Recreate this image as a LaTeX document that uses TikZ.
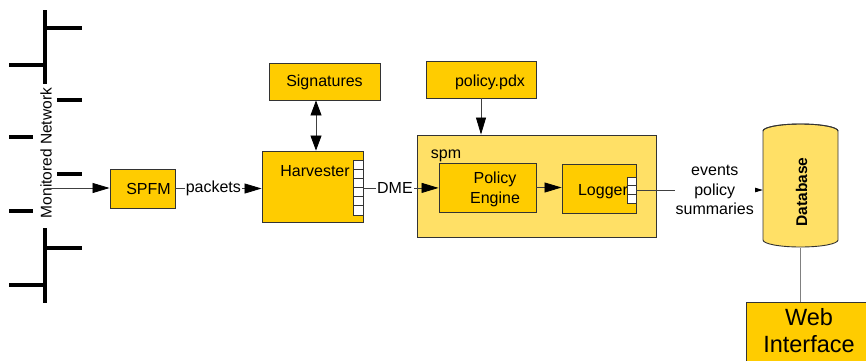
\documentclass[tikz,border=0pt]{standalone}
\usepackage{fontspec}
\setmainfont{Liberation Sans}
\usetikzlibrary{arrows.meta}
\definecolor{gold}{HTML}{FFCC00}
\definecolor{paleGold}{HTML}{FFE066}
\definecolor{edgeGray}{HTML}{333333}
\definecolor{wireGray}{HTML}{404040}
\definecolor{linkGray}{HTML}{808080}

\begin{document}
\begin{tikzpicture}[x=1pt,y=-1pt,
  box/.style={draw=edgeGray, fill=gold, line width=0.9pt, inner sep=0pt},
  palebox/.style={box, fill=paleGold},
  txt/.style={font=\fontsize{16}{20}\selectfont, inner sep=0pt, align=center, anchor=base},
  lbl/.style={font=\fontsize{16}{19.5}\selectfont, inner sep=1pt, align=center, fill=white},
  tip/.style={-{Triangle[length=17pt,width=10pt,color=black]}},
  dtip/.style={{Triangle[length=15pt,width=11pt,color=black]}-{Triangle[length=15pt,width=11pt,color=black]}},
  wire/.style={draw=wireGray, line width=0.8pt},
  bus/.style={line width=4pt, black},
  port/.style={draw=edgeGray, fill=white, line width=0.8pt, inner sep=0pt, minimum width=10pt}
]
\useasboundingbox (0,0) rectangle (866,360);
\clip (0,0) rectangle (866,360);

% monitored network bus
\draw[bus] (45,10) -- (45,84);
\draw[bus] (45,28) -- (82,28);
\draw[bus] (9,65) -- (45,65);
\draw[bus] (57,100) -- (82,100);
\draw[bus] (9,137) -- (33,137);
\draw[bus] (57,174) -- (82,174);
\draw[bus] (9,211) -- (33,211);
\draw[bus] (45,228) -- (45,303);
\draw[bus] (45,248) -- (82,248);
\draw[bus] (9,285) -- (45,285);
\coordinate (tap) at (47,188);

% boxes
\node[box, minimum width=65pt, minimum height=39pt] (spfm) at (142.5,188.5) {};
\node[box, minimum width=101pt, minimum height=71pt] (harv) at (312.5,186.5) {};
\node[box, minimum width=111pt, minimum height=37pt] (sig) at (324.5,81.5) {};
\node[box, minimum width=110pt, minimum height=37pt] (pdx) at (481,79.5) {};
\node[palebox, minimum width=239pt, minimum height=102pt] (spm) at (536.5,186) {};
\node[box, minimum width=97pt, minimum height=49pt] (pe) at (487.5,187.5) {};
\node[box, minimum width=74pt, minimum height=49pt] (log) at (599,188.5) {};
\node[box, minimum width=128pt, minimum height=66pt] (web) at (810,335) {};

% database cylinder
\node[inner sep=0pt, minimum width=75pt, minimum height=117pt] (db) at (800.5,189.5) {};
\draw[draw=edgeGray, fill=paleGold, line width=0.9pt]
  (763,131) -- (763,240) arc[start angle=180, end angle=360, x radius=37.5pt, y radius=7pt]
  -- (838,131) arc[start angle=0, end angle=180, x radius=37.5pt, y radius=7pt] -- cycle;
\draw[draw=edgeGray, line width=0.9pt]
  (763,131) arc[start angle=180, end angle=360, x radius=37.5pt, y radius=-7pt];

% texts
\node[txt, rotate=90, anchor=center, font=\fontsize{15.5}{18}\selectfont] (netlbl) at (46,153) {Monitored Network};
\node[txt] (spfmt) at (148.5,194) {SPFM};
\node[txt] (sigt) at (324.5,86.5) {Signatures};
\node[txt] (pdxt) at (490,86) {policy.pdx};
\node[txt] (harvt) at (315,176) {Harvester};
\node[txt] (spmt) at (446,158) {spm};
\node[txt] (pet) at (495,203) {Policy\\Engine};
\node[txt] (logt) at (603,195) {Logger};
\node[txt, font=\fontsize{23.5}{27}\selectfont] (webt) at (809,352) {Web\\Interface};
\node[rotate=90, inner sep=0pt, font=\fontsize{15.5}{18}\selectfont\bfseries] (dbt) at (801.5,192) {Database};

% ports
\foreach \i in {1,...,6}
  \node[port, minimum height=9.17pt] (hp\i) at (358,{160+9.17*(\i-0.5)}) {};
\foreach \i in {1,2,3}
  \node[port, minimum width=9pt, minimum height=8.67pt] (lp\i) at (631.5,{177+8.67*(\i-0.5)}) {};

% connectors
\draw[wire, tip] (tap) -- (tap -| spfm.west);
\draw[wire, tip] (spfm.east) -- node[lbl, pos=0.44] {packets} (spfm.east -| harv.west);
\draw[wire, dtip] (sig.south -| 316,0) -- (harv.north -| 316,0);
\draw[wire, tip] (pdx.south) -- (pdx.south |- spm.north);
\draw[wire, tip] (hp3.south east) -- node[lbl, pos=0.42] {DME} (hp3.south east -| pe.west);
\draw[wire, tip] (pe.east) -- (pe.east -| log.west);
\draw[wire, tip] (lp2.east) -- node[lbl, pos=0.62] {events\\policy\\summaries} (lp2.east -| db.west);
\draw[draw=linkGray, line width=1.5pt] (db.south |- 0,248) -- (db.south |- web.north);
\end{tikzpicture}
\end{document}
